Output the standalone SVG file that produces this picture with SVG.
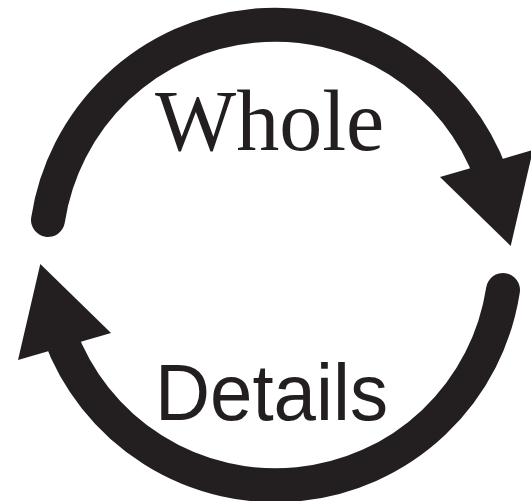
<svg xmlns="http://www.w3.org/2000/svg" width="531" height="501" viewBox="0 0 531 501">
  <style>
    .arc { fill: none; stroke: #231f20; stroke-width: 34; stroke-linecap: round; }
    .head { fill: #231f20; stroke: none; }
    .serif { font-family: "Liberation Serif", "Times New Roman", serif; font-size: 86px; fill: #231f20; }
    .sans { font-family: "Liberation Sans", Arial, sans-serif; font-size: 79px; fill: #231f20; }
  </style>
  <rect width="531" height="501" fill="#ffffff"/>
  <g id="connectors">
    <path class="arc" d="M 48 220 A 230 230 0 0 1 491.6 176.3"/>
    <polygon class="head" points="440,177 533,150 510.7,246"/>
    <path class="arc" d="M 503 290 A 230 230 0 0 1 59.4 333.7"/>
    <polygon class="head" points="111,333 18,360 40.3,264"/>
  </g>
  <g id="whole">
    <text class="serif" x="155" y="150">Whole</text>
  </g>
  <g id="details">
    <text class="sans" x="155" y="420" textLength="233" lengthAdjust="spacingAndGlyphs">Details</text>
  </g>
</svg>
